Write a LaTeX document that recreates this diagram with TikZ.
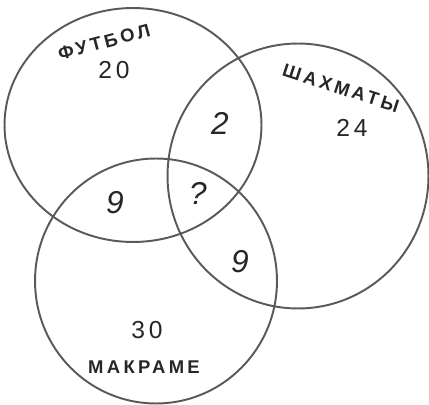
\documentclass[tikz,border=0pt]{standalone}
\usepackage{fontspec}
\setmainfont{Liberation Sans}
\usetikzlibrary{shapes.geometric}

\begin{document}
\begin{tikzpicture}[
  x=0.02cm, y=-0.02cm,
  set/.style  ={draw=black!65, ellipse, line width=1.1pt, inner sep=0pt, outer sep=0pt},
  title/.style={font=\fontsize{10.5}{12}\selectfont\bfseries\addfontfeature{LetterSpace=18}, text=black!85, inner sep=1pt},
  total/.style={font=\fontsize{14}{16}\selectfont\addfontfeature{LetterSpace=15}, text=black!85, inner sep=1pt},
  part/.style ={font=\fontsize{18}{20}\selectfont\itshape, text=black!85},
]
\useasboundingbox (0,0) rectangle (429,405);

% three sets
\node[set, minimum width=5.14cm, minimum height=4.68cm] (futbol)  at (133,125) {};
\node[set, minimum width=5.22cm, minimum height=5.30cm] (shakhm)  at (298,176) {};
\node[set, minimum width=4.84cm, minimum height=4.90cm] (makrame) at (156,281) {};

\node[title, rotate=15]  (tf) at (104,42)  {ФУТБОЛ};
\node[total]             (nf) at (114,70)  {20};
\node[title, rotate=-18] (ts) at (341,88)  {ШАХМАТЫ};
\node[total]             (ns) at (352,128) {24};
\node[total]             (nm) at (147,330) {30};
\node[title]             (tm) at (144,367) {МАКРАМЕ};

% intersections
\node[part] (fs)  at (220,123) {2};
\node[part] (fm)  at (115,203) {9};
\node[part] (all) at (198,193) {?};
\node[part] (sm)  at (240,262) {9};

\end{tikzpicture}
\end{document}
